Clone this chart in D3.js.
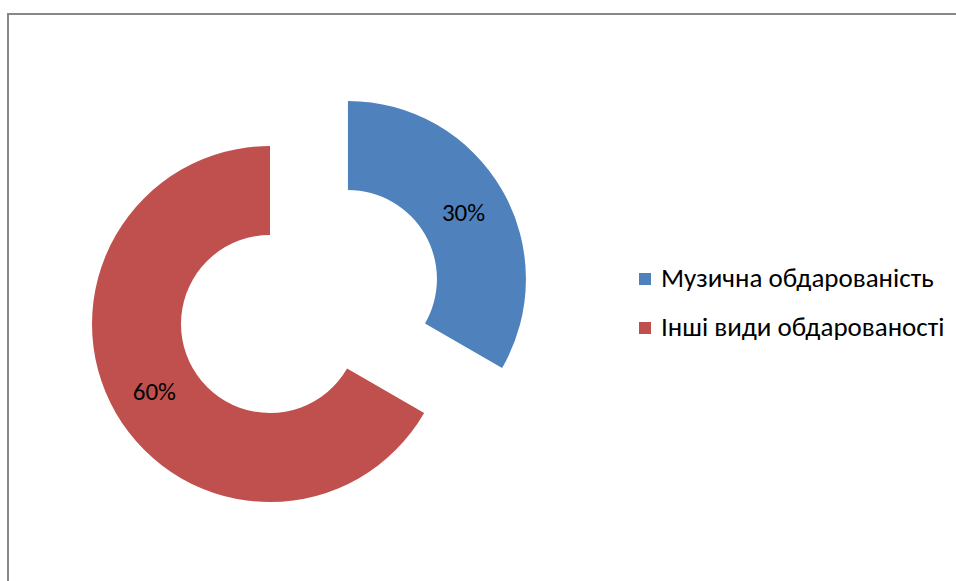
<!DOCTYPE html>
<html>
<head>
<meta charset="utf-8">
<script src="https://cdn.jsdelivr.net/npm/d3@7"></script>
<style>
  body { margin: 0; background: #fff; }
  svg { display: block; font-family: Carlito, Lato, "Open Sans", sans-serif; }
</style>
</head>
<body>
<div id="chart"></div>
<script>
// chart data
const categories = ["Музична обдарованість", "Інші види обдарованості"];
const values = [30, 60];
const labels = ["30%", "60%"];
const colors = ["#4F81BD", "#C0504D"];
const exploded = [true, false];

const width = 956, height = 581;
const cx = 270, cy = 324;
const outerR = 178, innerR = 89;
const explodeDist = 90;

const svg = d3.select("#chart").append("svg")
    .attr("width", width)
    .attr("height", height);

// chart frame (only top/left visible in the crop)
svg.append("path")
    .attr("d", "M8," + height + " L8,14 L" + width + ",14")
    .attr("fill", "none")
    .attr("stroke", "#888")
    .attr("stroke-width", 2);

const pie = d3.pie().sort(null).value(d => d);
const arcs = pie(values);
const arc = d3.arc().innerRadius(innerR).outerRadius(outerR);

const g = svg.append("g").attr("transform", `translate(${cx},${cy})`);

const slices = g.selectAll("g.slice")
    .data(arcs)
    .enter().append("g")
    .attr("class", "slice")
    .attr("transform", (d, i) => {
        if (!exploded[i]) return null;
        const a = (d.startAngle + d.endAngle) / 2;
        return `translate(${Math.sin(a) * explodeDist},${-Math.cos(a) * explodeDist})`;
    });

slices.append("path")
    .attr("d", arc)
    .attr("fill", (d, i) => colors[i]);

slices.append("text")
    .attr("transform", d => `translate(${arc.centroid(d)})`)
    .attr("text-anchor", "middle")
    .attr("dy", "0.35em")
    .attr("font-size", 25)
    .attr("fill", "#000")
    .text((d, i) => labels[i]);

// legend
const legend = svg.append("g").attr("transform", "translate(639,273)");
const items = legend.selectAll("g")
    .data(categories)
    .enter().append("g")
    .attr("transform", (d, i) => `translate(0,${i * 49})`);

items.append("rect")
    .attr("width", 12)
    .attr("height", 12)
    .attr("fill", (d, i) => colors[i]);

items.append("text")
    .attr("x", 22)
    .attr("y", 14)
    .attr("font-size", 27)
    .attr("fill", "#000")
    .text(d => d);
</script>
</body>
</html>
